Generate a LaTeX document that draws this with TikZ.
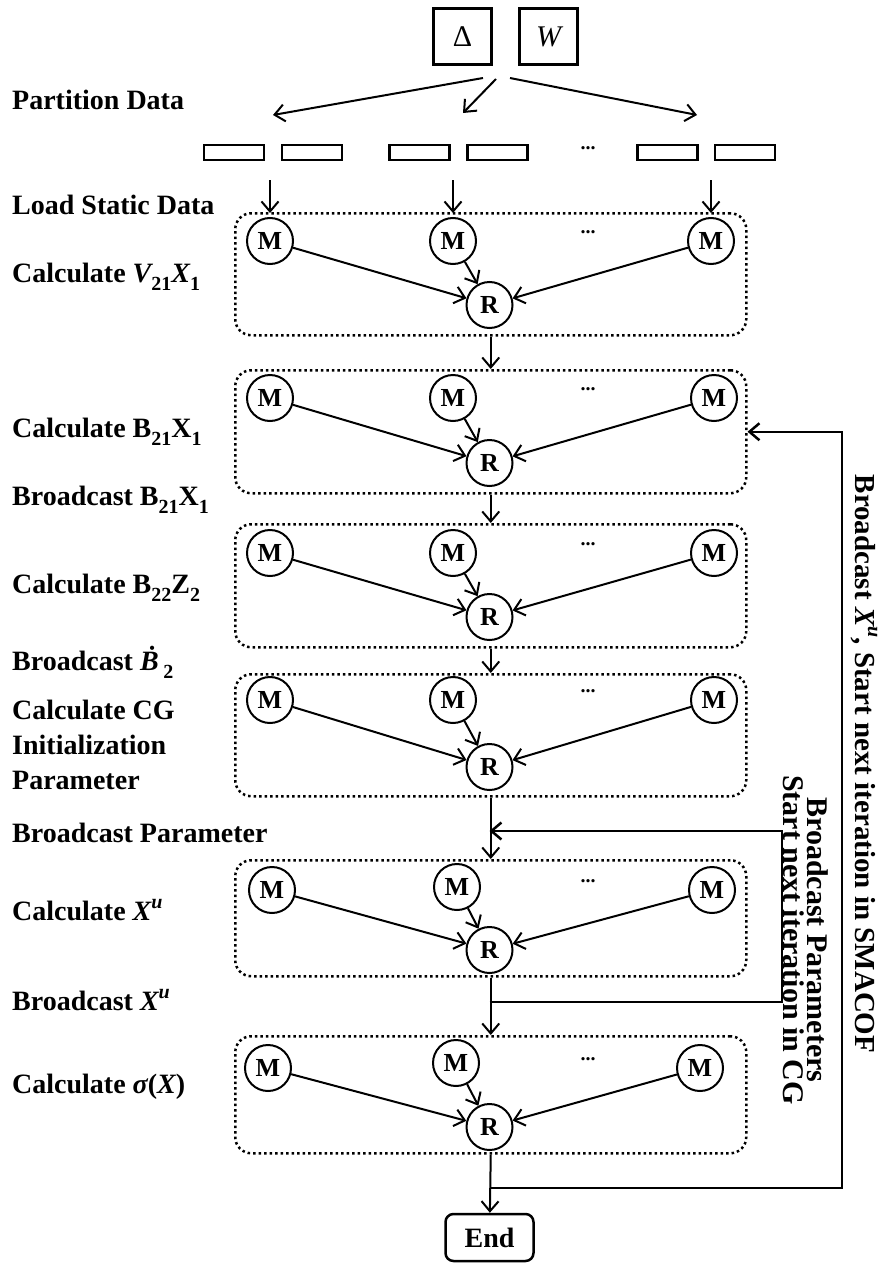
\documentclass[tikz,border=0pt]{standalone}
\usepackage{fontspec}
\setmainfont{Liberation Serif}
\usetikzlibrary{arrows.meta,calc}

% lowered / raised indices set in running text
\newcommand\lowtxt[1]{\raisebox{-0.28em}{\fontsize{20}{20}\selectfont #1}}
\newcommand\hightxt[1]{\raisebox{0.45em}{\fontsize{20}{20}\selectfont #1}}

\tikzset{
  flow/.style={line width=2pt,-{Straight Barb[length=10pt,width=17pt]}},
  loopflow/.style={flow,line width=2.5pt},
  mapper/.style={circle,draw,line width=2pt,minimum size=46pt,inner sep=0pt,
    font=\fontsize{26}{26}\selectfont\bfseries},
  stagebox/.style={draw,line width=2.5pt,dash pattern=on 2.5pt off 3pt,
    rounded corners=16pt,minimum width=511pt,anchor=north west,inner sep=0pt},
  lefttext/.style={anchor=west,inner sep=0pt,align=left,
    font=\fontsize{28}{35}\selectfont\bfseries},
  ellip/.style={inner sep=0pt,font=\fontsize{20}{20}\selectfont\bfseries},
  datab/.style={draw,line width=2.5pt,minimum width=60pt,minimum height=15pt,inner sep=0pt},
  srcbox/.style={draw,line width=3pt,minimum width=58pt,minimum height=56pt,inner sep=0pt},
  endbox/.style={draw,line width=2.5pt,rounded corners=8pt,minimum width=88pt,
    minimum height=47pt,inner sep=0pt,font=\fontsize{28}{28}\selectfont\bfseries},
  sidetext/.style={rotate=-90,inner sep=0pt,align=center,
    font=\fontsize{29}{24}\selectfont\bfseries}
}

% one map-reduce stage: id, top, bottom, M y, middle M y, R y, M x (left, middle, right)
\newcommand\mrstage[9]{%
  \node[stagebox,minimum height={#3pt-#2pt}] (#1box) at (234,#2) {};
  \node[mapper] (#1m1) at (#7,#4) {M};
  \node[mapper] (#1m2) at (#8,#5) {M};
  \node[mapper] (#1m3) at (#9,#4) {M};
  \node[mapper] (#1r) at (489.5,#6) {R};
  \node[ellip] (#1e) at (588,{#4-9}) {...};
  \draw[flow] (#1m1) -- (#1r);
  \draw[flow] (#1m2) -- (#1r);
  \draw[flow] (#1m3) -- (#1r);
}

\begin{document}
\begin{tikzpicture}[x=1pt,y=-1pt]
\useasboundingbox (0,0) rectangle (884,1263);

% input matrices
\node[srcbox,font=\fontsize{30}{30}\selectfont] (delta) at (462.5,36.5) {Δ};
\node[srcbox,font=\fontsize{30}{30}\selectfont\itshape] (wmat) at (548.5,36.5) {W};

% partitioned blocks
\node[datab] (b1) at (234,152.5) {};
\node[datab] (b2) at (312,152.5) {};
\node[datab] (b3) at (419.5,152.5) {};
\node[datab] (b4) at (497.5,152.5) {};
\node[ellip] (bdots) at (588,148) {...};
\node[datab] (b5) at (667.5,152.5) {};
\node[datab] (b6) at (745,152.5) {};

% partition arrows
\coordinate (sl) at (483,78);
\coordinate (sm) at (496,79);
\coordinate (sr) at (510,78);
\coordinate (tl) at (273,115);
\coordinate (tm) at (463,113);
\coordinate (tr) at (697,115);
\draw[flow] (sl) -- (tl);
\draw[flow] (sm) -- (tm);
\draw[flow] (sr) -- (tr);

% stages
\mrstage{s1}{212}{334}{241}{241}{305}{270}{453}{711}
\mrstage{s2}{369}{492}{398}{398}{463}{270}{453}{714}
\mrstage{s3}{523}{646}{553}{553}{617}{270}{453}{714}
\mrstage{s4}{673}{795}{700}{700}{767}{270}{453}{714}
\mrstage{s5}{859}{975}{890}{887}{950}{272}{457}{712}
\mrstage{s6}{1035}{1152}{1068}{1063}{1127}{268}{456}{700}

% static data loading
\coordinate (p1) at (270,180);
\coordinate (p2) at (453,180);
\coordinate (p3) at (711,180);
\draw[flow,shorten >=4pt] (p1) -- (s1m1.north);
\draw[flow,shorten >=4pt] (p2) -- (s1m2.north);
\draw[flow,shorten >=4pt] (p3) -- (s1m3.north);

% main flow
\draw[flow] (s1box.south) -- (s2box.north);
\draw[flow] (s2box.south) -- (s3box.north);
\draw[flow] (s3box.south) -- (s4box.north);
\draw[flow] (s4box.south) -- (s5box.north);
\draw[flow] (s5box.south) -- (s6box.north);

% end
\node[endbox] (end) at (489.5,1237.5) {End};
\draw[flow] (s6box.south) -- (end);

% CG loop
\coordinate (cgout) at (489.5,1002);
\coordinate (cgin) at (489.5,831);
\draw[loopflow] (cgout) -- ++(292.5,0) |- (cgin);

% SMACOF loop
\coordinate (smout) at (489.5,1188);
\draw[loopflow] (smout) -- ++(352.5,0) |- (s2box.east);

% side captions
\node[sidetext] (smtext) at (864,764)
  {Broadcast {\itshape X}\hightxt{\itshape u}, Start next iteration in SMACOF};
\node[sidetext,font=\fontsize{30}{24}\selectfont\bfseries] (cgtext) at (806,940)
  {Broadcast Parameters\\Start next iteration in CG};

% step captions
\node[lefttext] (t1) at (12,100) {Partition Data};
\node[lefttext] (t2) at (12,205) {Load Static Data};
\node[lefttext] (t3) at (12,277) {Calculate {\itshape V}\lowtxt{21}{\itshape X}\lowtxt{1}};
\node[lefttext] (t4) at (12,432) {Calculate B\lowtxt{21}X\lowtxt{1}};
\node[lefttext] (t5) at (12,500) {Broadcast B\lowtxt{21}X\lowtxt{1}};
\node[lefttext] (t6) at (12,588) {Calculate B\lowtxt{22}Z\lowtxt{2}};
\node[lefttext] (t7) at (12,662) {Broadcast {\itshape Ḃ}\,\lowtxt{2}};
\node[lefttext] (t8) at (12,745) {Calculate CG\\Initialization\\Parameter};
\node[lefttext] (t9) at (12,833) {Broadcast Parameter};
\node[lefttext] (t10) at (12,910) {Calculate {\itshape X}\hightxt{\itshape u}};
\node[lefttext] (t11) at (12,1000) {Broadcast {\itshape X}\hightxt{\itshape u}};
\node[lefttext] (t12) at (12,1087) {Calculate {\itshape σ}({\itshape X})};
\end{tikzpicture}
\end{document}
